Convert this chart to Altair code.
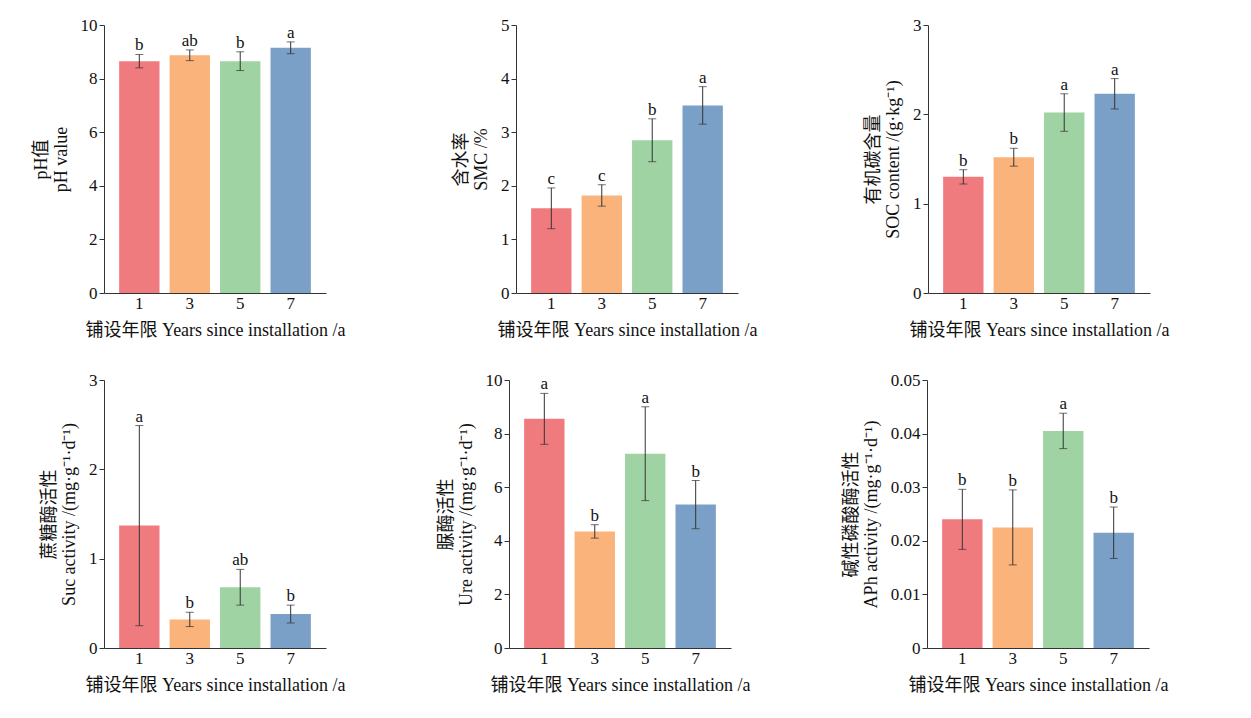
import altair as alt
import pandas as pd

years = ["1", "3", "5", "7"]
colors = ["#f07b7f", "#f9b37b", "#9fd3a3", "#7aa0c7"]

ph_mean = [8.65, 8.87, 8.65, 9.15]; ph_err = [0.25, 0.2, 0.35, 0.22]; ph_lab = ["b", "ab", "b", "a"]
smc_mean = [1.58, 1.82, 2.85, 3.5]; smc_err = [0.38, 0.2, 0.4, 0.35]; smc_lab = ["c", "c", "b", "a"]
soc_mean = [1.3, 1.52, 2.02, 2.23]; soc_err = [0.08, 0.1, 0.21, 0.17]; soc_lab = ["b", "b", "a", "a"]
suc_mean = [1.37, 0.32, 0.68, 0.38]; suc_err = [1.12, 0.08, 0.2, 0.1]; suc_lab = ["a", "b", "ab", "b"]
ure_mean = [8.55, 4.35, 7.25, 5.35]; ure_err = [0.95, 0.25, 1.75, 0.9]; ure_lab = ["a", "b", "a", "b"]
aph_mean = [0.024, 0.0225, 0.0405, 0.0215]; aph_err = [0.0056, 0.007, 0.0033, 0.0048]; aph_lab = ["b", "b", "a", "b"]

FONT = "Liberation Serif, Noto Sans CJK SC"
XT = "铺设年限 Years since installation /a"

def panel(mean, err, lab, ymax, ystep, title):
    df = pd.DataFrame({"year": years, "mean": mean,
                       "lo": [m - e for m, e in zip(mean, err)],
                       "hi": [m + e for m, e in zip(mean, err)], "lab": lab})
    x = alt.X("year:N", sort=years, title=XT,
              scale=alt.Scale(paddingInner=0.2, paddingOuter=0.3),
              axis=alt.Axis(labelAngle=0))
    ticks = [round(i * ystep, 6) for i in range(int(round(ymax / ystep)) + 1)]
    y = alt.Y("mean:Q", title=title, scale=alt.Scale(domain=[0, ymax], nice=False),
              axis=alt.Axis(values=ticks, labelExpr="toString(round(datum.value*1000)/1000)"))
    base = alt.Chart(df)
    bars = base.mark_bar().encode(x=x, y=y,
        color=alt.Color("year:N", sort=years, scale=alt.Scale(domain=years, range=colors), legend=None))
    eb = base.mark_rule(color="#333", strokeWidth=1).encode(x=x, y="lo:Q", y2="hi:Q")
    cap_lo = base.mark_tick(color="#333", width=8, thickness=1, orient="horizontal").encode(x=x, y="lo:Q")
    cap_hi = base.mark_tick(color="#333", width=8, thickness=1, orient="horizontal").encode(x=x, y="hi:Q")
    txt = base.mark_text(dy=-9, font=FONT, fontSize=17, color="#111").encode(x=x, y="hi:Q", text="lab:N")
    return alt.layer(bars, eb, cap_lo, cap_hi, txt).properties(width=222, height=268)

row1 = alt.hconcat(
    panel(ph_mean, ph_err, ph_lab, 10, 2, ["pH值", "pH value"]),
    panel(smc_mean, smc_err, smc_lab, 5, 1, ["含水率", "SMC /%"]),
    panel(soc_mean, soc_err, soc_lab, 3, 1, ["有机碳含量", "SOC content /(g·kg⁻¹)"]),
    spacing=106)
row2 = alt.hconcat(
    panel(suc_mean, suc_err, suc_lab, 3, 1, ["蔗糖酶活性", "Suc activity /(mg·g⁻¹·d⁻¹)"]),
    panel(ure_mean, ure_err, ure_lab, 10, 2, ["脲酶活性", "Ure activity /(mg·g⁻¹·d⁻¹)"]),
    panel(aph_mean, aph_err, aph_lab, 0.05, 0.01, ["碱性磷酸酶活性", "APh activity /(mg·g⁻¹·d⁻¹)"]),
    spacing=91)
chart = alt.vconcat(row1, row2, spacing=32).properties(
    padding={"left": 24, "top": 8, "right": 5, "bottom": 5}
).configure_view(stroke=None).configure_axis(
    labelFont=FONT, titleFont=FONT, labelFontSize=17, titleFontSize=18, titleFontWeight="normal",
    labelColor="#111", titleColor="#111", domainColor="#333", tickColor="#333", grid=False,
    titlePadding=10).configure_axisX(domain=True, ticks=False)

chart.save("out.html", embed_options={"renderer": "svg", "actions": False})
